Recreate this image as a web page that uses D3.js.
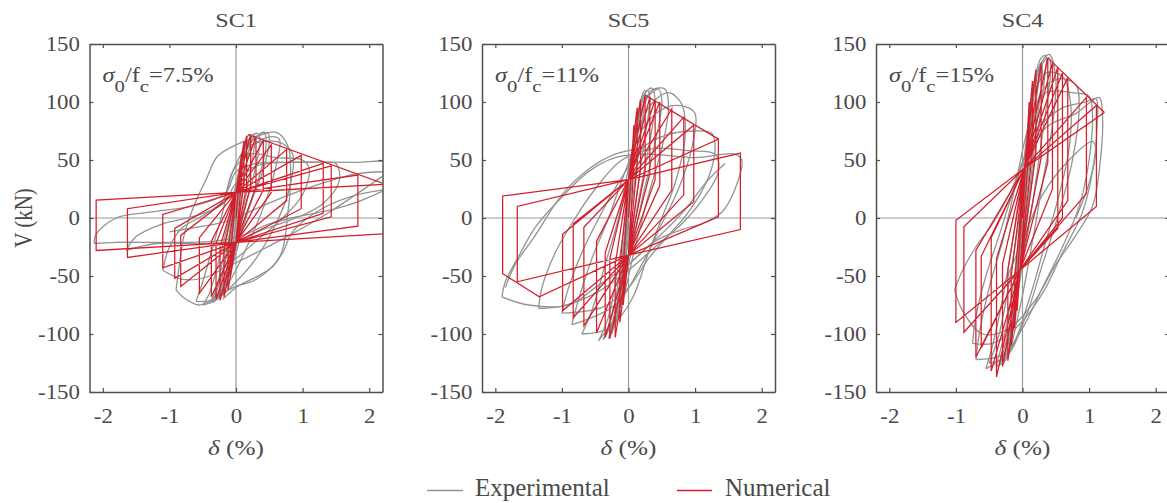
<!DOCTYPE html>
<html><head><meta charset="utf-8">
<script src="https://cdn.jsdelivr.net/npm/d3@7"></script>
<style>
body{margin:0;background:#fff;}
svg{display:block;}
text{font-family:"Liberation Serif","Times New Roman",serif;fill:#4a4a4a;}
</style>
</head><body>
<svg id="c" width="1167" height="503"></svg>
<script>
// ---------------- data ----------------
const panelTitles = ["SC1", "SC5", "SC4"];
const ratioLabels = ["7.5%", "11%", "15%"];
const xTicks = [-2, -1, 0, 1, 2];
const yTicks = [-150, -100, -50, 0, 50, 100, 150];
const xDomain = [-2.2, 2.2];
const yDomain = [-150, 150];
const legendLabels = ["Experimental", "Numerical"];

// Experimental loops (delta %, V kN)
const sc1Exp = [
  [[-0.1,-50],[-0.02,-10],[0.06,35],[0.12,60],[0.14,65],[0.1,45],[0.02,5],[-0.06,-30],[-0.1,-50]],
  [[-0.18,-62],[-0.08,-20],[0.02,30],[0.12,62],[0.2,72],[0.22,70],[0.15,45],[0.05,5],[-0.08,-40],[-0.18,-62]],
  [[-0.25,-68],[-0.12,-40],[-0.02,0],[0.08,45],[0.18,66],[0.26,72],[0.28,65],[0.18,30],[0.05,-10],[-0.1,-45],[-0.25,-68]],
  [[-0.28,-70],[-0.15,-35],[-0.04,10],[0.08,50],[0.2,68],[0.32,73],[0.36,68],[0.28,40],[0.12,5],[-0.05,-35],[-0.2,-62],[-0.28,-70]],
  [[-0.35,-73],[-0.22,-50],[-0.1,-15],[0.02,30],[0.15,60],[0.3,70],[0.42,74],[0.45,62],[0.32,30],[0.15,0],[-0.05,-40],[-0.2,-65],[-0.35,-73]],
  [[-0.4,-74],[-0.3,-62],[-0.15,-20],[0,25],[0.15,58],[0.35,72],[0.48,73],[0.5,66],[0.4,40],[0.2,10],[0,-25],[-0.2,-58],[-0.4,-74]],
  [[-0.5,-75],[-0.4,-65],[-0.25,-35],[-0.1,0],[0.05,40],[0.25,62],[0.5,70],[0.65,68],[0.6,45],[0.45,15],[0.2,-20],[-0.05,-50],[-0.3,-70],[-0.5,-75]],
  [[-0.9,-62],[-0.85,-40],[-0.78,-15],[-0.62,12],[-0.45,33],[-0.28,53],[0,63],[0.3,70],[0.6,74],[0.78,62],[0.82,35],[0.78,5],[0.66,-33],[0.3,-53],[0,-59],[-0.3,-68],[-0.55,-75],[-0.8,-68],[-0.9,-62]],
  [[-0.6,-72],[-0.5,-55],[-0.35,-25],[-0.2,5],[-0.05,40],[0.15,60],[0.4,66],[0.7,64],[0.85,55],[0.8,25],[0.6,-5],[0.3,-35],[0,-55],[-0.3,-70],[-0.6,-72]],
  [[-1.1,-45],[-1.0,-25],[-0.8,-8],[-0.5,2],[-0.2,15],[-0.05,40],[0.2,55],[0.6,52],[1.0,50],[1.1,42],[1.0,20],[0.7,0],[0.3,-20],[0,-35],[-0.4,-50],[-0.8,-53],[-1.1,-45]],
  [[-1.65,-28],[-1.5,-16],[-1.1,-5],[-0.6,2],[-0.2,12],[0,30],[0.3,45],[0.8,48],[1.3,48],[1.5,47],[1.55,32],[1.3,12],[0.9,0],[0.4,-10],[0,-20],[-0.5,-22],[-1.2,-22],[-1.65,-28]],
  [[-2.13,-22],[-2.1,-14],[-1.8,0],[-1.3,5],[-0.6,11],[-0.15,22],[0,40],[0.3,47],[1.0,48],[1.8,48],[2.3,47],[2.35,30],[2.0,18],[1.5,8],[1.0,2],[0.5,-5],[0.1,-15],[-0.3,-20],[-0.9,-21],[-1.8,-21],[-2.13,-22]],
  [[-0.2,-70],[0.05,-58],[0.3,-51],[0.55,-42],[0.7,-30],[0.85,-12],[1.2,5],[1.7,18],[2.3,25]],
  [[-0.05,-40],[0.3,-30],[0.8,-15],[1.4,5],[2.3,40]],
  [[-1.0,-12],[-0.6,-8],[-0.3,-5],[0,0],[0.3,8],[0.8,20],[1.3,30],[1.8,38],[2.3,40]]
];
const sc5Exp = [
  [[-0.1,-70],[-0.03,-20],[0.05,40],[0.12,85],[0.15,95],[0.1,65],[0.02,10],[-0.06,-40],[-0.1,-70]],
  [[-0.2,-95],[-0.1,-50],[0,10],[0.1,70],[0.2,105],[0.25,110],[0.2,80],[0.08,25],[-0.05,-40],[-0.2,-95]],
  [[-0.25,-100],[-0.12,-60],[-0.02,-5],[0.08,55],[0.18,95],[0.28,110],[0.32,105],[0.22,60],[0.1,10],[-0.05,-50],[-0.25,-100]],
  [[-0.3,-104],[-0.15,-65],[-0.03,0],[0.1,65],[0.22,105],[0.35,112],[0.4,100],[0.3,60],[0.15,15],[0,-35],[-0.15,-80],[-0.3,-104]],
  [[-0.38,-105],[-0.25,-85],[-0.1,-35],[0.02,25],[0.15,80],[0.3,105],[0.45,111],[0.5,100],[0.38,60],[0.2,15],[0,-40],[-0.2,-85],[-0.38,-105]],
  [[-0.45,-106],[-0.3,-85],[-0.15,-40],[0,20],[0.15,85],[0.35,110],[0.55,111],[0.6,95],[0.5,60],[0.3,20],[0.1,-25],[-0.15,-80],[-0.45,-106]],
  [[-0.7,-100],[-0.55,-80],[-0.35,-40],[-0.15,0],[0.05,55],[0.3,95],[0.6,108],[0.8,98],[0.85,70],[0.7,30],[0.5,0],[0.3,-30],[0.05,-70],[-0.3,-95],[-0.7,-100]],
  [[-0.85,-92],[-0.75,-70],[-0.55,-35],[-0.3,0],[-0.05,40],[0.25,80],[0.55,95],[0.85,96],[1.0,90],[0.95,60],[0.75,25],[0.5,-5],[0.2,-40],[-0.2,-75],[-0.85,-92]],
  [[-1.0,-82],[-0.9,-60],[-0.7,-30],[-0.4,5],[-0.1,35],[0.2,60],[0.6,72],[1.0,75],[1.25,73],[1.3,60],[1.2,35],[0.9,5],[0.6,-15],[0.3,-35],[0,-60],[-0.4,-77],[-1.0,-82]],
  [[-1.35,-78],[-1.3,-60],[-1.1,-30],[-0.8,0],[-0.5,25],[-0.1,50],[0.4,60],[0.9,58],[1.3,55],[1.35,40],[1.1,15],[0.8,-5],[0.4,-25],[0,-45],[-0.5,-65],[-1.0,-76],[-1.35,-78]],
  [[-1.9,-68],[-1.85,-55],[-1.65,-33],[-1.4,-8],[-1.05,15],[-0.6,40],[-0.2,52],[0.3,55],[1.0,52],[1.6,55],[1.7,50],[1.6,25],[1.4,5],[1.1,-5],[0.8,-10],[0.4,-20],[0,-40],[-0.5,-60],[-0.9,-75],[-1.5,-75],[-1.9,-68]],
  [[-1.85,-60],[-1.7,-40],[-1.4,-15],[-1.0,20],[-0.6,42],[-0.2,55],[0.2,60]],
  [[-0.1,-45],[0.4,-19],[0.8,4],[1.2,33],[1.45,47]]
];
const sc4Exp = [
  [[-0.1,-80],[-0.03,-20],[0.05,40],[0.12,95],[0.15,110],[0.1,80],[0.02,20],[-0.06,-40],[-0.1,-80]],
  [[-0.18,-110],[-0.1,-60],[0,0],[0.1,70],[0.2,120],[0.25,130],[0.2,100],[0.1,40],[0,-20],[-0.1,-75],[-0.18,-110]],
  [[-0.22,-120],[-0.12,-75],[-0.02,-15],[0.08,55],[0.18,110],[0.27,133],[0.3,128],[0.22,85],[0.1,20],[-0.05,-50],[-0.22,-120]],
  [[-0.28,-125],[-0.15,-80],[-0.05,-20],[0.05,50],[0.15,110],[0.28,138],[0.35,140],[0.32,115],[0.2,60],[0.05,-10],[-0.1,-70],[-0.28,-125]],
  [[-0.35,-127],[-0.2,-95],[-0.05,-30],[0.08,40],[0.2,100],[0.32,135],[0.4,138],[0.42,125],[0.32,80],[0.17,20],[0,-40],[-0.2,-105],[-0.35,-127]],
  [[-0.4,-128],[-0.25,-95],[-0.1,-40],[0,20],[0.12,90],[0.25,130],[0.4,141],[0.5,120],[0.45,80],[0.3,30],[0.15,-20],[-0.05,-80],[-0.25,-122],[-0.4,-128]],
  [[-0.5,-125],[-0.35,-100],[-0.2,-55],[-0.05,0],[0.1,65],[0.3,110],[0.55,120],[0.8,115],[0.85,95],[0.75,50],[0.55,5],[0.3,-40],[0.05,-85],[-0.25,-120],[-0.5,-125]],
  [[-0.55,-130],[-0.45,-110],[-0.3,-70],[-0.15,-20],[0,40],[0.15,100],[0.35,125],[0.6,122],[0.72,100],[0.7,60],[0.55,20],[0.35,-20],[0.1,-70],[-0.2,-115],[-0.55,-130]],
  [[-0.7,-122],[-0.65,-100],[-0.5,-60],[-0.3,-20],[-0.1,30],[0.1,80],[0.35,108],[0.75,108],[1.0,105],[1.05,90],[1.0,50],[0.85,10],[0.6,-25],[0.3,-60],[0,-95],[-0.3,-118],[-0.7,-122]],
  [[-0.75,-108],[-0.7,-85],[-0.55,-50],[-0.35,-15],[-0.1,30],[0.2,75],[0.6,95],[0.95,100],[1.1,103],[1.12,80],[1.05,40],[0.9,5],[0.6,-30],[0.3,-65],[-0.1,-95],[-0.45,-108],[-0.75,-108]],
  [[-1.02,-62],[-0.9,-45],[-0.7,-25],[-0.45,-5],[-0.2,20],[0.1,60],[0.4,80],[0.8,90],[1.15,104],[1.2,90],[1.15,40],[1.05,10],[0.8,-15],[0.5,-40],[0.2,-70],[-0.2,-95],[-0.6,-100],[-0.9,-80],[-1.02,-62]],
  [[-0.3,-60],[0,-20],[0.3,20],[0.7,50],[1.05,66],[1.1,60],[1.0,30],[0.8,0]]
];

// Numerical model: pinch points [upper],[lower]
const sc1Pinch = [[0.0, 22], [0.0, -21]];
const sc5Pinch = [[0.0, 33], [0.0, -32]];
const sc4Pinch = [[0.03, 43], [-0.04, -45]];
// positive half-cycles: [peak drift, peak V, V after unloading drop]
const sc1NumPos = [[0.08,55,30],[0.12,66,30],[0.16,71,28],[0.22,72,28],[0.30,70,27],[0.41,67,24],[0.53,63,22],[0.76,59,15],[0.98,54,8],[1.31,47,4],[1.43,45,1],[1.83,37,-7],[2.4,29.5,-13]];
// negative half-cycles: [peak drift (abs), peak V, V after unloading rise, (envelope drift, envelope V)]
const sc1NumNeg = [[0.08,-50,-30],[0.12,-62,-28],[0.18,-68,-26],[0.24,-71,-25],[0.30,-70,-22],[0.37,-68,-20],[0.55,-65,-17],[0.83,-59,-15],[0.92,-52,-9],[1.10,-43,3],[1.63,-34,8],[2.10,-28,15.5]];
const sc5NumPos = [[0.08,80,45],[0.13,95,45],[0.18,102,42],[0.25,106,40],[0.32,104,38],[0.40,102,33],[0.47,100,28],[0.65,94,24],[0.83,87,20],[0.98,80,14],[1.35,68,1],[1.68,56,-10]];
const sc5NumNeg = [[0.08,-75,-45],[0.13,-90,-42],[0.2,-103,-40],[0.28,-104,-35],[0.35,-103,-30],[0.48,-99,-20],[0.67,-93,-8],[0.83,-86,-5],[0.99,-80,-14],[1.67,-55,10],[1.89,-48,19,-1.34,-68]];
const sc4NumPos = [[0.1,100,60],[0.15,118,58],[0.2,128,55],[0.28,134,52],[0.38,138,48],[0.45,134,25],[0.53,130,-9],[0.6,125,0],[0.68,121,15],[0.96,104,21],[1.11,97,10],[1.23,91]];
const sc4NumNeg = [[0.08,-80,-55],[0.12,-95,-55],[0.17,-110,-50],[0.22,-123,-45],[0.3,-128,-40],[0.39,-137,-35],[0.47,-132,-17],[0.62,-112,-33],[0.7,-120,-28],[0.88,-98.5,-7.5],[1.0,-90,-2]];
// softening branch of the numerical backbone (positive side)
const sc1NumBackbone = [[0.18,72],[2.4,25.8]];
const sc5NumBackbone = [[0.25,106],[1.35,68]];
const sc4NumBackbone = [[0.38,138],[1.23,91]];

// ---------------- layout ----------------
const lefts = [89.5, 482, 876];
const pw = 293, plotTop = 44, plotBottom = 392;
const frameColor = "#505050";
const expColor = "#939393";
const numColor = "#d41f2b";

const svg = d3.select("#c");
const panels = [
  {title: panelTitles[0], ratio: ratioLabels[0], exp: sc1Exp, pinch: sc1Pinch, pos: sc1NumPos, neg: sc1NumNeg, bb: sc1NumBackbone},
  {title: panelTitles[1], ratio: ratioLabels[1], exp: sc5Exp, pinch: sc5Pinch, pos: sc5NumPos, neg: sc5NumNeg, bb: sc5NumBackbone},
  {title: panelTitles[2], ratio: ratioLabels[2], exp: sc4Exp, pinch: sc4Pinch, pos: sc4NumPos, neg: sc4NumNeg, bb: sc4NumBackbone}
];

function numericalPath(p) {
  const U = p.pinch[0], L = p.pinch[1];
  const pts = [[0, 0]];
  p.pos.forEach((c, i) => {
    pts.push([c[0], c[1]]);
    if (c[2] === undefined) return;
    pts.push([c[0], c[2]]);
    pts.push(L);
    const n = p.neg[i];
    if (!n) return;
    if (n.length > 3) pts.push([n[3], n[4]]);
    pts.push([-n[0], n[1]]);
    pts.push([-n[0], n[2]]);
    pts.push(U);
  });
  return pts;
}

panels.forEach((p, i) => {
  const x = d3.scaleLinear().domain(xDomain).range([lefts[i], lefts[i] + pw]);
  const y = d3.scaleLinear().domain(yDomain).range([plotBottom, plotTop]);
  const g = svg.append("g");

  svg.append("clipPath").attr("id", "clip" + i).append("rect")
    .attr("x", lefts[i]).attr("y", plotTop).attr("width", pw).attr("height", plotBottom - plotTop);

  // zero lines
  g.append("line").attr("x1", x(0)).attr("x2", x(0)).attr("y1", plotTop).attr("y2", plotBottom)
    .attr("stroke", "#9a9a9a").attr("stroke-width", 1.2);
  g.append("line").attr("x1", lefts[i]).attr("x2", lefts[i] + pw).attr("y1", y(0)).attr("y2", y(0))
    .attr("stroke", "#9a9a9a").attr("stroke-width", 1.2);

  const data = g.append("g").attr("clip-path", `url(#clip${i})`);
  const expLine = d3.line().x(d => x(d[0])).y(d => y(d[1])).curve(d3.curveCatmullRom.alpha(0.5));
  data.selectAll("path.exp").data(p.exp).join("path").attr("class", "exp")
    .attr("d", expLine).attr("fill", "none").attr("stroke", expColor).attr("stroke-width", 1.3);
  const numLine = d3.line().x(d => x(d[0])).y(d => y(d[1]));
  data.append("path").attr("d", numLine(numericalPath(p))).attr("fill", "none")
    .attr("stroke", numColor).attr("stroke-width", 1.25).attr("stroke-linejoin", "miter");
  data.append("path").attr("d", numLine(p.bb)).attr("fill", "none")
    .attr("stroke", numColor).attr("stroke-width", 1.25);

  // axes
  function styleAxis(sel, sx) {
    sel.attr("font-family", "Liberation Serif, serif").attr("font-size", 20);
    sel.select(".domain").attr("stroke", frameColor).attr("stroke-width", 1.5);
    sel.selectAll(".tick line").attr("stroke", frameColor).attr("stroke-width", 1.2);
    sel.selectAll(".tick text").attr("fill", "#454545").attr("transform", `scale(${sx},1)`);
  }
  const fmt = d => String(d);
  g.append("g").attr("transform", `translate(0,${plotBottom})`)
    .call(d3.axisBottom(x).tickValues(xTicks).tickSizeInner(-4).tickSizeOuter(0).tickPadding(17).tickFormat(fmt))
    .call(s => styleAxis(s, 1.14));
  g.append("g").attr("transform", `translate(${lefts[i]},0)`)
    .call(d3.axisLeft(y).tickValues(yTicks).tickSizeInner(-4).tickSizeOuter(0).tickPadding(8.5).tickFormat(fmt))
    .call(s => styleAxis(s, 1.14));
  g.append("g").attr("transform", `translate(0,${plotTop})`)
    .call(d3.axisTop(x).tickValues(xTicks).tickSizeInner(-4).tickSizeOuter(0).tickFormat(""))
    .call(s => styleAxis(s, 1));
  g.append("g").attr("transform", `translate(${lefts[i] + pw},0)`)
    .call(d3.axisRight(y).tickValues(yTicks).tickSizeInner(-4).tickSizeOuter(0).tickFormat(""))
    .call(s => styleAxis(s, 1));

  // title
  g.append("text").attr("transform", `translate(${lefts[i] + pw / 2},27) scale(1.27,1)`)
    .attr("text-anchor", "middle").attr("font-size", 19).text(p.title);

  // x label
  const xl = g.append("text").attr("transform", `translate(${lefts[i] + pw / 2},455) scale(1.2,1)`)
    .attr("text-anchor", "middle").attr("font-size", 21);
  xl.append("tspan").attr("font-style", "italic").text("δ");
  xl.append("tspan").text(" (%)");

  // annotation
  const t = g.append("text").attr("transform", `translate(${lefts[i] + 13},82) scale(1.22,1)`).attr("font-size", 20);
  t.append("tspan").attr("font-style", "italic").text("σ");
  t.append("tspan").attr("dy", 10).attr("font-size", 17).text("0");
  t.append("tspan").attr("dy", -10).text("/f");
  t.append("tspan").attr("dy", 10).attr("font-size", 17).text("c");
  t.append("tspan").attr("dy", -10).text("=" + p.ratio);
});

// y label
svg.append("text").attr("transform", "translate(32,218) rotate(-90) scale(1,1.2)")
  .attr("text-anchor", "middle").attr("font-size", 21).text("V (kN)");

// legend
const legend = svg.append("g");
const legendItems = [
  {label: legendLabels[0], color: expColor, x1: 427, x2: 463, tx: 475},
  {label: legendLabels[1], color: numColor, x1: 677, x2: 712, tx: 725}
];
legendItems.forEach(d => {
  legend.append("line").attr("x1", d.x1).attr("x2", d.x2).attr("y1", 490.5).attr("y2", 490.5)
    .attr("stroke", d.color).attr("stroke-width", 1.3);
  legend.append("text").attr("x", d.tx).attr("y", 496).attr("font-size", 25).attr("fill", "#4a4a4a").text(d.label);
});
</script>
</body></html>
